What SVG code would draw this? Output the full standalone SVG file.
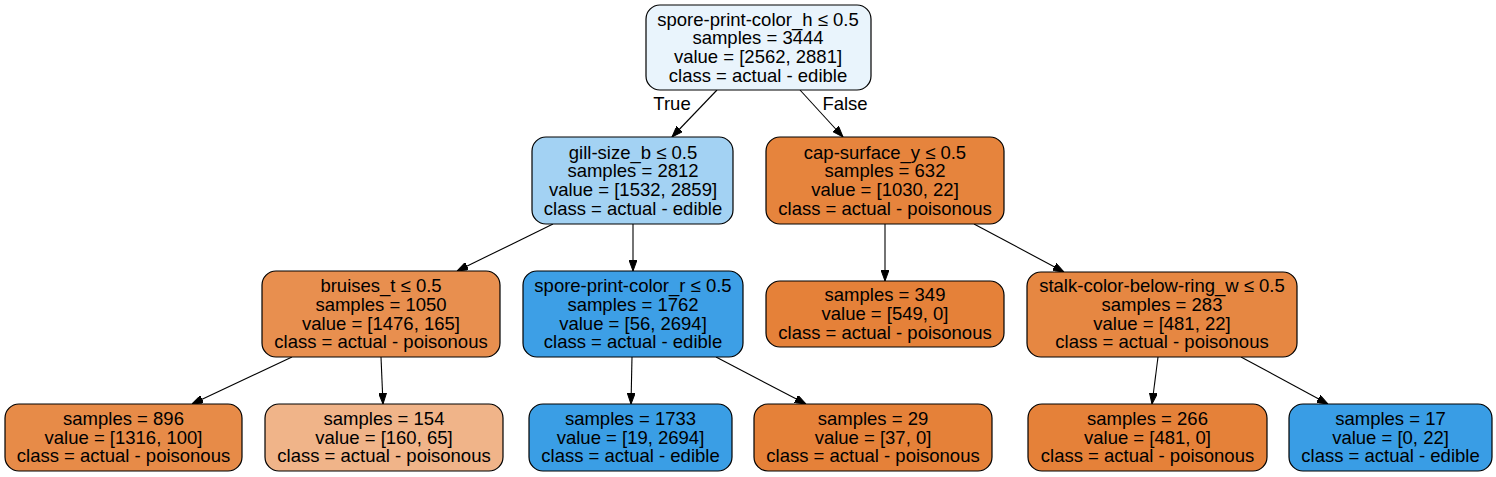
<svg xmlns="http://www.w3.org/2000/svg" width="1496" height="477" viewBox="0 0 1496 477">
<defs>
<marker id="arr" markerWidth="11" markerHeight="8" refX="11" refY="4" orient="auto" markerUnits="userSpaceOnUse">
<path d="M0,0 L11,4 L0,8 Z" fill="#000" stroke="#000" stroke-width="1"/>
</marker>
<style>
.n rect{stroke:#000;stroke-width:1.2}
text{font-family:"Liberation Sans",Arial,sans-serif;font-size:18.5px;fill:#000;text-anchor:middle}
.e line{stroke:#000;stroke-width:1.1;marker-end:url(#arr)}
</style>
</defs>
<rect width="1496" height="477" fill="#fff"/>
<g class="e" id="connectors">
<line x1="717" y1="90" x2="672" y2="137"/>
<line x1="800" y1="90" x2="843" y2="137"/>
<line x1="553" y1="224" x2="457" y2="271"/>
<line x1="633" y1="224" x2="633" y2="271"/>
<line x1="885" y1="224" x2="885" y2="281"/>
<line x1="974" y1="224" x2="1064" y2="272"/>
<line x1="292" y1="357" x2="192" y2="404"/>
<line x1="381" y1="357" x2="383" y2="404"/>
<line x1="632" y1="357" x2="631" y2="404"/>
<line x1="716" y1="357" x2="806" y2="404"/>
<line x1="1158" y1="357" x2="1152" y2="404"/>
<line x1="1241" y1="357" x2="1328" y2="404"/>
<text x="672" y="110">True</text>
<text x="845" y="110">False</text>
</g>
<g class="n" id="n0">
<rect x="646" y="5" width="225" height="85" rx="14" fill="#e9f4fc"/>
<text x="758" y="25.5">spore-print-color_h ≤ 0.5</text>
<text x="758" y="44.2">samples = 3444</text>
<text x="758" y="63">value = [2562, 2881]</text>
<text x="758" y="81.7">class = actual - edible</text>
</g>
<g class="n" id="n1">
<rect x="532" y="137" width="201" height="87" rx="14" fill="#a3d2f3"/>
<text x="633" y="158.5">gill-size_b ≤ 0.5</text>
<text x="633" y="177.2">samples = 2812</text>
<text x="633" y="196">value = [1532, 2859]</text>
<text x="633" y="214.7">class = actual - edible</text>
</g>
<g class="n" id="n8">
<rect x="766" y="137" width="238" height="87" rx="14" fill="#e6843d"/>
<text x="885" y="158.5">cap-surface_y ≤ 0.5</text>
<text x="885" y="177.2">samples = 632</text>
<text x="885" y="196">value = [1030, 22]</text>
<text x="885" y="214.7">class = actual - poisonous</text>
</g>
<g class="n" id="n2">
<rect x="262" y="271" width="238" height="86" rx="14" fill="#e88f4f"/>
<text x="381" y="292">bruises_t ≤ 0.5</text>
<text x="381" y="310.7">samples = 1050</text>
<text x="381" y="329.5">value = [1476, 165]</text>
<text x="381" y="348.2">class = actual - poisonous</text>
</g>
<g class="n" id="n5">
<rect x="523" y="271" width="220" height="86" rx="14" fill="#3d9fe6"/>
<text x="633" y="292">spore-print-color_r ≤ 0.5</text>
<text x="633" y="310.7">samples = 1762</text>
<text x="633" y="329.5">value = [56, 2694]</text>
<text x="633" y="348.2">class = actual - edible</text>
</g>
<g class="n" id="n9">
<rect x="766" y="281" width="238" height="66" rx="14" fill="#e58139"/>
<text x="885" y="301.3">samples = 349</text>
<text x="885" y="320">value = [549, 0]</text>
<text x="885" y="338.7">class = actual - poisonous</text>
</g>
<g class="n" id="n10">
<rect x="1027" y="272" width="270" height="85" rx="14" fill="#e68742"/>
<text x="1162" y="292">stalk-color-below-ring_w ≤ 0.5</text>
<text x="1162" y="310.7">samples = 283</text>
<text x="1162" y="329.5">value = [481, 22]</text>
<text x="1162" y="348.2">class = actual - poisonous</text>
</g>
<g class="n" id="n3">
<rect x="5" y="404" width="237" height="67" rx="14" fill="#e78b48"/>
<text x="123.5" y="424.8">samples = 896</text>
<text x="123.5" y="443.5">value = [1316, 100]</text>
<text x="123.5" y="462.2">class = actual - poisonous</text>
</g>
<g class="n" id="n4">
<rect x="265" y="404" width="238" height="67" rx="14" fill="#f0b489"/>
<text x="384" y="424.8">samples = 154</text>
<text x="384" y="443.5">value = [160, 65]</text>
<text x="384" y="462.2">class = actual - poisonous</text>
</g>
<g class="n" id="n6">
<rect x="529" y="404" width="203" height="67" rx="14" fill="#3a9ee5"/>
<text x="630.5" y="424.8">samples = 1733</text>
<text x="630.5" y="443.5">value = [19, 2694]</text>
<text x="630.5" y="462.2">class = actual - edible</text>
</g>
<g class="n" id="n7">
<rect x="754" y="404" width="238" height="67" rx="14" fill="#e58139"/>
<text x="873" y="424.8">samples = 29</text>
<text x="873" y="443.5">value = [37, 0]</text>
<text x="873" y="462.2">class = actual - poisonous</text>
</g>
<g class="n" id="n11">
<rect x="1028" y="404" width="239" height="67" rx="14" fill="#e58139"/>
<text x="1147.5" y="424.8">samples = 266</text>
<text x="1147.5" y="443.5">value = [481, 0]</text>
<text x="1147.5" y="462.2">class = actual - poisonous</text>
</g>
<g class="n" id="n12">
<rect x="1289" y="404" width="203" height="67" rx="14" fill="#399de5"/>
<text x="1390.5" y="424.8">samples = 17</text>
<text x="1390.5" y="443.5">value = [0, 22]</text>
<text x="1390.5" y="462.2">class = actual - edible</text>
</g>
</svg>
